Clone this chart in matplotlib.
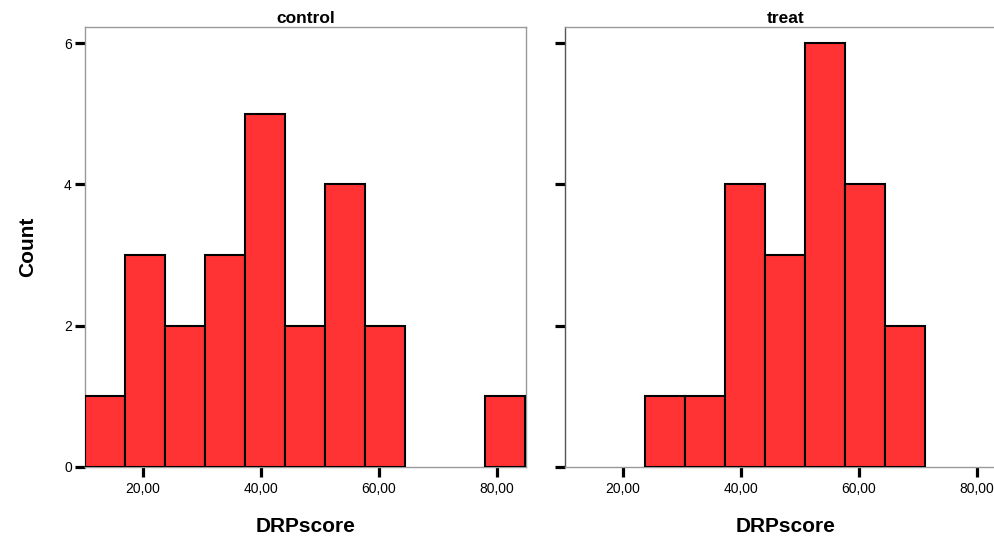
import matplotlib
matplotlib.use("Agg")
import matplotlib.pyplot as plt
import numpy as np

plt.rcParams['font.family'] = ['Liberation Sans', 'DejaVu Sans']

# Histogram bin edges (DRPscore)
bin_edges = [10.22, 17.00, 23.78, 30.56, 37.35, 44.13, 50.91, 57.69, 64.47, 71.25, 78.03, 84.81]
# Counts per bin
control_counts = [1, 3, 2, 3, 5, 2, 4, 2, 0, 0, 1]
treat_counts = [0, 0, 1, 1, 4, 3, 6, 4, 2, 0, 0]
panel_titles = ["control", "treat"]
x_ticks = [20, 40, 60, 80]
x_tick_labels = ["20,00", "40,00", "60,00", "80,00"]
y_ticks = [0, 2, 4, 6]

fig = plt.figure(figsize=(9.94, 5.40), dpi=100)
W, H = 994, 540
ax_w = 440.7 / W
ax_h = 440 / H
ax_b = 1 - 467 / H
positions = [85 / W, 565 / W]

edges = np.array(bin_edges)
widths = np.diff(edges)
frame_col = '#999999'

for i, (title, counts) in enumerate(zip(panel_titles, [control_counts, treat_counts])):
    ax = fig.add_axes([positions[i], ax_b, ax_w, ax_h])
    c = np.array(counts)
    m = c > 0
    ax.bar(edges[:-1][m], c[m], width=widths[m], align='edge', color='#FF3333',
           edgecolor='black', linewidth=1.5, zorder=3)
    ax.set_xlim(10.22, 84.9)
    ax.set_ylim(0, 6.23)
    ax.set_xticks(x_ticks)
    ax.set_xticklabels(x_tick_labels)
    ax.set_yticks(y_ticks)
    if i == 0:
        ax.set_yticklabels([str(v) for v in y_ticks])
        ax.set_ylabel("Count", fontsize=15, fontweight='bold', labelpad=19)
    else:
        ax.set_yticklabels([])
    ax.tick_params(axis='both', direction='out', length=7.5, width=2.3, color='black',
                   labelsize=10, pad=3.5)
    ax.tick_params(axis='y', labelsize=10, pad=2)
    for s in ax.spines.values():
        s.set_color(frame_col)
        s.set_linewidth(1.0)
    if i == 1:
        ax.spines['left'].set_color('#555555')
    ax.set_title(title, fontsize=12.5, fontweight='bold', pad=3)
    ax.set_xlabel("DRPscore", fontsize=15, fontweight='bold', labelpad=15)

fig.savefig("out.png", dpi=100)
